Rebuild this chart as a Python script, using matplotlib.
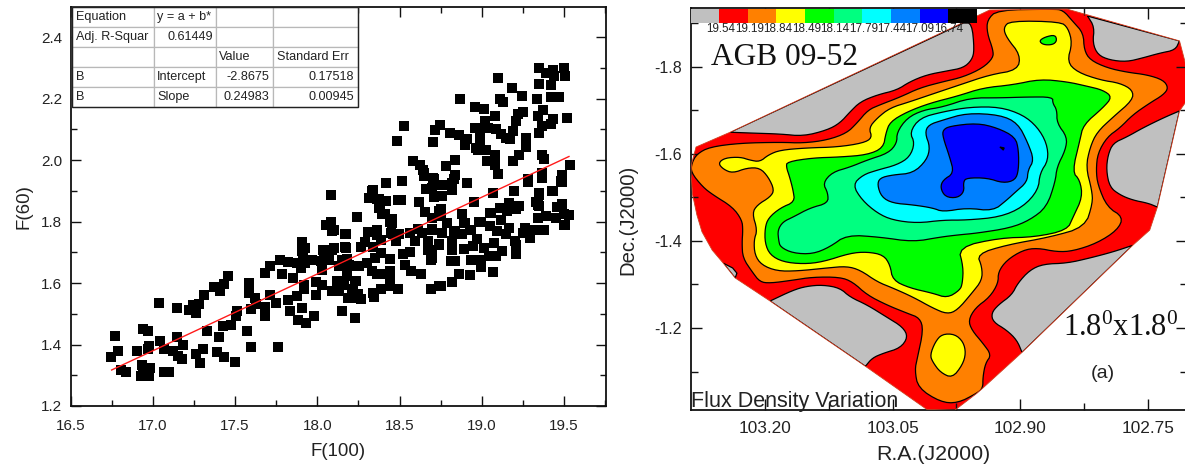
import numpy as np
import matplotlib
matplotlib.use("Agg")
import matplotlib.pyplot as plt
from matplotlib.patches import Polygon
from matplotlib.ticker import MultipleLocator, FormatStrFormatter

plt.rcParams['font.family'] = ['Liberation Sans', 'DejaVu Sans']
plt.rcParams['mathtext.fontset'] = 'custom'
plt.rcParams['mathtext.rm'] = 'Liberation Serif'

# ---------- left panel data ----------
FIT_INTERCEPT = -2.8675
FIT_SLOPE = 0.24983
FIT_RANGE = [16.75, 19.53]
TABLE_ROWS = [
    ["Equation", "y = a + b*", "", ""],
    ["Adj. R-Squar", "0.61449", "", ""],
    ["", "", "Value", "Standard Err"],
    ["B", "Intercept", "-2.8675", "0.17518"],
    ["B", "Slope", "0.24983", "0.00945"],
]
POINTS = [
(16.745,1.36),(16.79,1.378),(16.77,1.428),(16.81,1.317),(16.84,1.312),(16.905,1.38),(16.94,1.45),(16.97,1.445),
(16.975,1.395),(16.97,1.385),(16.935,1.335),(16.93,1.297),(16.975,1.297),(16.985,1.324),(16.95,1.313),(16.94,1.32),
(17.045,1.41),(17.07,1.384),(17.12,1.38),(17.07,1.312),(17.10,1.31),(17.035,1.535),(17.145,1.52),(17.145,1.425),
(17.185,1.398),(17.155,1.364),(17.18,1.353),(17.22,1.513),(17.245,1.527),(17.28,1.533),(17.26,1.503),(17.31,1.56),
(17.33,1.443),(17.305,1.386),(17.26,1.37),(17.29,1.34),(17.37,1.586),(17.41,1.574),(17.435,1.598),(17.46,1.622),
(17.405,1.426),(17.39,1.375),(17.43,1.358),(17.50,1.343),(17.425,1.46),(17.475,1.463),(17.515,1.51),(17.505,1.492),
(17.575,1.445),(17.60,1.393),(17.76,1.393),(17.585,1.60),(17.585,1.566),(17.62,1.552),(17.60,1.514),(17.63,1.533),
(17.685,1.522),(17.68,1.494),(17.71,1.56),(17.75,1.535),(17.68,1.633),(17.71,1.655),(17.785,1.628),(17.775,1.674),
(17.825,1.669),(17.85,1.615),(17.875,1.666),(17.90,1.65),(17.925,1.666),(17.965,1.674),(17.905,1.733),(17.925,1.714),
(17.915,1.698),(17.92,1.58),(17.875,1.557),(17.825,1.544),(17.835,1.508),(17.905,1.519),(17.885,1.481),(17.93,1.47),
(17.98,1.494),(17.995,1.56),(17.99,1.604),(18.03,1.593),(18.025,1.671),(18.055,1.679),(18.03,1.644),(18.035,1.707),
(18.09,1.707),(18.09,1.769),(18.17,1.76),(18.17,1.718),(18.15,1.676),(18.19,1.66),(18.135,1.655),(18.18,1.628),
(18.12,1.606),(18.16,1.595),(18.09,1.573),(18.13,1.573),(18.15,1.508),(18.185,1.552),(18.23,1.487),(18.23,1.606),
(18.22,1.573),(18.23,1.552),(18.24,1.655),(17.92,1.595),
(18.083,1.886),(18.42,1.924),(18.515,1.931),(18.65,1.958),(18.71,1.94),(18.66,1.906),(18.707,1.88),(18.34,1.902),
(18.32,1.877),(18.36,1.872),(18.41,1.866),(18.49,1.869),(18.51,1.87),(18.62,1.863),(18.655,1.831),(18.38,1.844),
(18.41,1.823),(18.455,1.807),(18.455,1.796),(18.24,1.815),(18.083,1.798),(18.055,1.79),(18.10,1.771),(18.175,1.76),
(18.31,1.766),(18.365,1.771),(18.365,1.756),(18.46,1.761),(18.495,1.758),(18.565,1.763),(18.615,1.776),(18.635,1.763),
(18.70,1.776),(18.70,1.812),(18.74,1.834),(18.595,1.736),(18.675,1.736),(18.74,1.725),(17.91,1.704),(18.10,1.714),
(18.045,1.707),(18.175,1.714),(18.29,1.733),(18.265,1.718),(18.34,1.718),(18.39,1.741),(18.48,1.736),(18.39,1.698),
(18.35,1.682),(18.44,1.679),(18.52,1.693),(18.565,1.70),(18.67,1.709),(18.695,1.682),(18.535,1.66),(18.57,1.638),
(18.63,1.628),(18.04,1.676),(18.07,1.676),(18.18,1.679),(18.135,1.655),(18.185,1.66),(18.255,1.655),(18.30,1.666),
(18.33,1.638),(18.36,1.628),(18.41,1.628),(18.445,1.638),(18.44,1.606),(18.18,1.622),(18.14,1.595),(18.235,1.606),
(18.10,1.573),(18.21,1.579),(18.19,1.552),(18.25,1.563),(18.265,1.548),(18.34,1.568),(18.345,1.555),(18.385,1.582),
(18.44,1.59),(18.49,1.581),(18.69,1.581),(18.74,1.59),
(18.91,1.924),(18.82,1.926),(18.76,1.92),(18.70,1.91),(18.76,1.882),(18.82,1.904),(18.75,1.84),(18.70,1.81),
(18.88,1.826),(18.79,1.796),(18.76,1.763),(18.70,1.774),(18.83,1.763),(18.89,1.796),(18.88,1.758),(18.935,1.774),
(18.985,1.80),(19.05,1.828),(19.11,1.844),(19.165,1.861),(19.225,1.852),(19.155,1.834),(19.205,1.84),(19.07,1.893),
(18.955,1.863),(19.195,1.899),(19.28,1.93),(19.485,1.928),(19.43,1.90),(19.35,1.893),(19.33,1.863),(19.345,1.85),
(19.455,1.848),(19.485,1.858),(19.50,1.823),(19.53,1.82),(19.50,1.79),(19.45,1.812),(19.39,1.817),(19.34,1.812),
(19.38,1.772),(19.325,1.774),(19.26,1.78),(19.29,1.747),(19.25,1.763),(19.115,1.806),(19.05,1.785),(19.165,1.78),
(19.095,1.769),(19.145,1.758),(19.075,1.73),(18.97,1.744),(19.20,1.736),(19.21,1.725),(19.21,1.693),(19.12,1.704),
(19.085,1.687),(19.045,1.687),(19.015,1.714),(18.945,1.72),(18.89,1.711),(18.995,1.676),(18.995,1.652),(18.935,1.676),
(18.82,1.736),(18.82,1.709),(18.81,1.673),(18.84,1.671),(18.74,1.728),(18.695,1.709),(18.69,1.676),(19.07,1.635),
(18.93,1.625),(18.86,1.631),(18.82,1.605),(18.75,1.59),(18.69,1.581),
(19.35,2.30),(19.43,2.294),(19.50,2.30),(19.39,2.283),(19.44,2.273),(19.505,2.275),(19.35,2.248),(19.42,2.245),
(19.10,2.267),(19.185,2.235),(19.245,2.208),(19.42,2.205),(19.47,2.205),(19.335,2.20),(18.865,2.20),(19.11,2.20),
(19.13,2.19),(18.96,2.173),(19.015,2.166),(19.37,2.164),(19.25,2.157),(19.22,2.15),(19.34,2.143),(19.08,2.145),
(19.515,2.137),(19.435,2.135),(19.205,2.126),(19.02,2.126),(19.365,2.112),(19.42,2.118),(18.745,2.115),(18.715,2.097),
(18.96,2.105),(19.04,2.105),(19.085,2.102),(18.99,2.094),(18.805,2.088),(18.86,2.083),(19.345,2.088),(19.19,2.094),
(19.115,2.086),(19.15,2.072),(19.17,2.067),(18.91,2.07),(18.705,2.06),(18.99,2.064),(18.895,2.05),(19.27,2.072),
(18.965,2.04),(19.025,2.032),(19.27,2.043),(19.225,2.016),(19.19,1.996),(18.975,2.032),(19.08,2.015),(19.03,1.996),
(19.08,1.985),(19.365,2.015),(19.38,2.004),(19.535,1.983),(18.58,1.996),(18.625,1.985),(18.64,1.969),(18.65,1.948),
(18.705,1.942),(18.835,2.0),(18.78,1.982),(18.835,1.953),(18.83,1.937),(19.10,1.956),(19.28,1.937),(19.365,1.958),
(19.365,1.942),(19.49,1.953),(19.48,1.931),(19.425,1.90),(19.35,1.888),(19.34,1.855),(19.485,1.855),(19.505,1.79),
(18.53,2.11),(18.485,2.063),(18.335,1.899),(18.315,1.877),(18.375,1.872),(18.42,1.866),(18.75,1.817),(18.375,1.844),
(18.395,1.823),(18.445,1.80),(18.45,1.763),(18.79,1.796),(18.88,1.823),(18.90,1.796),(18.93,1.774),(18.84,1.769),
(18.995,1.80),(19.055,1.828),
]

# ---------- right panel data ----------
LEVEL_COLORS = ["#C0C0C0", "#FF0000", "#FF8000", "#FFFF00", "#00FF00",
                "#00FF80", "#00FFFF", "#0080FF", "#0000FF", "#000000"]
LEVEL_LABELS = ["19.54", "19.19", "18.84", "18.49", "18.14", "17.79", "17.44", "17.09", "16.74"]
RA_TICKS = [103.20, 103.05, 102.90, 102.75]
DEC_TICKS = [-1.8, -1.6, -1.4, -1.2]

HULL = [(103.287,-1.558),(103.286,-1.579),(103.281,-1.616),(103.241,-1.650),(102.936,-1.931),(102.845,-1.933),
        (102.713,-1.860),(102.704,-1.793),(102.704,-1.724),(102.713,-1.699),(102.739,-1.478),(102.748,-1.425),
        (102.768,-1.390),(102.898,-1.144),(102.944,-1.062),(102.951,-1.050),(102.977,-1.011),(103.010,-1.013),
        (103.082,-1.112),(103.194,-1.262),(103.235,-1.315),(103.249,-1.349),(103.262,-1.379),(103.274,-1.421),
        (103.280,-1.460),(103.285,-1.506)]
GRAY_A = [(103.241,-1.650),(102.967,-1.901),(102.957,-1.901),(102.954,-1.839),(102.957,-1.816),(102.967,-1.798),
          (102.986,-1.791),(103.010,-1.782),(103.030,-1.766),(103.045,-1.747),(103.068,-1.736),(103.088,-1.720),
          (103.100,-1.697),(103.112,-1.671),(103.127,-1.655),(103.155,-1.641),(103.182,-1.646),(103.214,-1.648)]
GRAY_B = [(102.821,-1.917),(102.713,-1.860),(102.718,-1.839),(102.736,-1.832),(102.756,-1.821),(102.775,-1.812),
          (102.795,-1.816),(102.809,-1.828),(102.815,-1.855),(102.813,-1.892)]
GRAY_C = [(102.713,-1.699),(102.739,-1.478),(102.750,-1.487),(102.768,-1.494),(102.783,-1.506),(102.795,-1.524),
          (102.799,-1.563),(102.797,-1.598),(102.791,-1.625),(102.775,-1.639),(102.756,-1.660),(102.732,-1.683)]
GRAY_D = [(102.768,-1.390),(102.898,-1.144),(102.904,-1.172),(102.916,-1.195),(102.932,-1.214),(102.934,-1.234),
          (102.926,-1.253),(102.910,-1.276),(102.903,-1.303),(102.889,-1.333),(102.873,-1.347),(102.845,-1.349),
          (102.818,-1.361),(102.791,-1.375)]
GRAY_E = [(103.194,-1.262),(103.082,-1.112),(103.074,-1.131),(103.061,-1.142),(103.041,-1.154),(103.032,-1.179),
          (103.038,-1.202),(103.057,-1.225),(103.080,-1.253),(103.100,-1.271),(103.112,-1.292),(103.132,-1.299),
          (103.151,-1.296),(103.167,-1.287)]
GRAY_F = [(103.249,-1.349),(103.238,-1.338),(103.233,-1.326),(103.235,-1.315)]
ORANGE = [(103.287,-1.558),(103.286,-1.579),(103.280,-1.600),(103.265,-1.616),(103.229,-1.625),(103.182,-1.627),
          (103.155,-1.625),(103.127,-1.632),(103.104,-1.648),(103.092,-1.671),(103.079,-1.701),(103.065,-1.713),
          (103.041,-1.731),(103.018,-1.752),(102.991,-1.766),(102.967,-1.777),(102.944,-1.798),(102.932,-1.821),
          (102.932,-1.839),(102.939,-1.878),(102.939,-1.908),(102.927,-1.931),(102.862,-1.933),(102.850,-1.931),
          (102.838,-1.904),(102.826,-1.878),(102.825,-1.839),(102.818,-1.816),(102.798,-1.798),(102.775,-1.788),
          (102.751,-1.782),(102.732,-1.770),(102.726,-1.752),(102.732,-1.736),(102.748,-1.717),(102.768,-1.690),
          (102.783,-1.660),(102.798,-1.639),(102.809,-1.602),(102.811,-1.563),(102.809,-1.529),(102.798,-1.478),
          (102.779,-1.455),(102.786,-1.425),(102.810,-1.395),(102.838,-1.377),(102.857,-1.375),(102.880,-1.384),
          (102.897,-1.379),(102.916,-1.356),(102.926,-1.329),(102.926,-1.303),(102.936,-1.271),(102.953,-1.246),
          (102.961,-1.218),(102.957,-1.195),(102.944,-1.165),(102.934,-1.138),(102.941,-1.119),(102.944,-1.087),
          (102.944,-1.062),(102.951,-1.050),(102.974,-1.027),(102.994,-1.030),(103.020,-1.062),(103.024,-1.103),
          (103.021,-1.131),(103.014,-1.195),(103.018,-1.223),(103.033,-1.234),(103.057,-1.253),(103.080,-1.276),
          (103.097,-1.306),(103.112,-1.317),(103.144,-1.317),(103.167,-1.310),(103.194,-1.303),(103.206,-1.306),
          (103.215,-1.329),(103.226,-1.361),(103.227,-1.395),(103.226,-1.425),(103.227,-1.448),(103.238,-1.478),
          (103.261,-1.506),(103.273,-1.524)]
YELLOW = [(103.182,-1.609),(103.151,-1.614),(103.115,-1.616),(103.085,-1.625),(103.074,-1.637),(103.078,-1.660),
          (103.068,-1.683),(103.053,-1.706),(103.030,-1.720),(103.006,-1.736),(102.971,-1.759),(102.936,-1.782),
          (102.903,-1.793),(102.900,-1.828),(102.916,-1.867),(102.920,-1.890),(102.912,-1.906),(102.853,-1.904),
          (102.844,-1.890),(102.839,-1.855),(102.845,-1.812),(102.833,-1.788),(102.806,-1.770),(102.783,-1.763),
          (102.768,-1.747),(102.768,-1.724),(102.791,-1.685),(102.810,-1.650),(102.818,-1.616),(102.823,-1.570),
          (102.816,-1.517),(102.815,-1.487),(102.824,-1.432),(102.865,-1.409),(102.916,-1.391),(102.951,-1.370),
          (102.945,-1.340),(102.945,-1.310),(102.957,-1.280),(102.974,-1.241),(102.986,-1.232),(103.003,-1.246),
          (103.026,-1.271),(103.050,-1.292),(103.068,-1.306),(103.088,-1.333),(103.104,-1.342),(103.127,-1.338),
          (103.162,-1.331),(103.186,-1.331),(103.204,-1.345),(103.212,-1.368),(103.213,-1.402),(103.209,-1.425),
          (103.215,-1.464),(103.209,-1.483),(103.194,-1.501),(103.189,-1.517),(103.196,-1.547),(103.206,-1.568),
          (103.221,-1.568),(103.238,-1.556),(103.249,-1.565),(103.255,-1.579),(103.247,-1.591),(103.229,-1.593),
          (103.218,-1.586),(103.206,-1.582),(103.196,-1.598)]
YELLOW_SOUTH = [(103.006,-1.138),(103.000,-1.168),(102.992,-1.186),(102.977,-1.186),(102.967,-1.168),(102.964,-1.142),
                (102.968,-1.115),(102.980,-1.085),(102.994,-1.098),(103.003,-1.122)]
GREEN = [(103.174,-1.582),(103.144,-1.591),(103.112,-1.593),(103.080,-1.598),(103.061,-1.614),(103.058,-1.648),
         (103.053,-1.674),(103.033,-1.697),(103.006,-1.717),(102.974,-1.733),(102.944,-1.752),(102.909,-1.759),
         (102.877,-1.772),(102.845,-1.766),(102.822,-1.756),(102.803,-1.747),(102.792,-1.731),(102.803,-1.706),
         (102.826,-1.667),(102.830,-1.632),(102.839,-1.559),(102.830,-1.540),(102.827,-1.501),(102.838,-1.455),
         (102.845,-1.425),(102.883,-1.409),(102.924,-1.407),(102.973,-1.386),(102.967,-1.340),(102.968,-1.303),
         (102.971,-1.287),(102.986,-1.269),(103.003,-1.280),(103.030,-1.292),(103.050,-1.310),(103.053,-1.345),
         (103.061,-1.368),(103.080,-1.375),(103.100,-1.372),(103.132,-1.352),(103.155,-1.347),(103.179,-1.352),
         (103.194,-1.368),(103.200,-1.395),(103.200,-1.430),(103.196,-1.453),(103.182,-1.476),(103.165,-1.490),
         (103.167,-1.517),(103.171,-1.547),(103.175,-1.570)]
GREEN_NORTH = [(102.878,-1.860),(102.871,-1.869),(102.859,-1.874),(102.857,-1.860),(102.862,-1.851),(102.873,-1.851)]
SPRING = [(103.179,-1.444),(103.167,-1.455),(103.147,-1.476),(103.126,-1.487),(103.126,-1.510),(103.132,-1.533),
          (103.121,-1.558),(103.100,-1.570),(103.080,-1.586),(103.055,-1.602),(103.045,-1.625),(103.045,-1.650),
          (103.033,-1.683),(103.014,-1.701),(102.991,-1.708),(102.959,-1.729),(102.924,-1.729),(102.892,-1.731),
          (102.862,-1.731),(102.862,-1.717),(102.857,-1.701),(102.857,-1.671),(102.845,-1.639),(102.847,-1.609),
          (102.857,-1.570),(102.859,-1.536),(102.869,-1.478),(102.889,-1.448),(102.912,-1.430),(102.951,-1.418),
          (102.973,-1.414),(102.994,-1.409),(103.026,-1.398),(103.065,-1.409),(103.104,-1.414),(103.124,-1.386),
          (103.144,-1.370),(103.167,-1.372),(103.182,-1.386),(103.184,-1.402),(103.185,-1.425)]
CYAN = [(103.097,-1.529),(103.085,-1.552),(103.068,-1.563),(103.045,-1.575),(103.030,-1.593),(103.024,-1.625),
        (103.030,-1.650),(103.018,-1.683),(102.991,-1.697),(102.959,-1.708),(102.924,-1.708),(102.897,-1.690),
        (102.880,-1.662),(102.869,-1.625),(102.867,-1.586),(102.877,-1.556),(102.879,-1.517),(102.897,-1.478),
        (102.924,-1.455),(102.963,-1.448),(102.991,-1.448),(103.021,-1.441),(103.050,-1.448),(103.068,-1.464),
        (103.086,-1.494)]
AZURE = [(103.068,-1.529),(103.065,-1.545),(103.050,-1.552),(103.026,-1.556),(103.010,-1.586),(103.006,-1.616),
         (103.012,-1.648),(103.008,-1.667),(102.991,-1.678),(102.963,-1.694),(102.924,-1.690),(102.903,-1.671),
         (102.891,-1.625),(102.884,-1.586),(102.891,-1.563),(102.892,-1.536),(102.906,-1.512),(102.916,-1.494),
         (102.932,-1.469),(102.963,-1.476),(102.991,-1.467),(103.003,-1.476),(103.026,-1.483),(103.050,-1.487),
         (103.063,-1.501)]
BLUE = [(102.991,-1.655),(102.983,-1.664),(102.951,-1.671),(102.927,-1.660),(102.906,-1.639),(102.902,-1.609),
        (102.902,-1.563),(102.906,-1.540),(102.920,-1.533),(102.939,-1.545),(102.963,-1.545),(102.967,-1.536),
        (102.966,-1.513),(102.974,-1.499),(102.988,-1.501),(102.994,-1.522),(102.991,-1.540),(102.978,-1.556),
        (102.983,-1.593),(102.991,-1.639)]
BLACK = [(102.924,-1.616),(102.919,-1.614),(102.920,-1.609)]

W, H = 1185, 468
fig = plt.figure(figsize=(W / 100, H / 100), dpi=100)


def box(l, t, r, b):
    return [l / W, 1 - b / H, (r - l) / W, (b - t) / H]


def style(ax):
    for s in ax.spines.values():
        s.set_linewidth(1.3)
        s.set_color('#111111')
    ax.tick_params(which='both', direction='in', top=True, right=True, width=1.0, color='#111111')
    ax.tick_params(which='major', length=7, labelsize=11, labelcolor='#222222', pad=6)
    ax.tick_params(which='minor', length=4)


# ---------- left panel ----------
ax = fig.add_axes(box(70.5, 7, 606, 406))
px, py = zip(*POINTS)
ax.scatter(px, py, marker='s', s=44, c='black', linewidths=0, zorder=3)
fx = np.array(FIT_RANGE)
ax.plot(fx, FIT_INTERCEPT + FIT_SLOPE * fx, color='#FF1A1A', lw=1.0, zorder=4)
ax.set_xlim(16.5, 19.755)
ax.set_ylim(1.2, 2.498)
ax.xaxis.set_major_locator(MultipleLocator(0.5))
ax.xaxis.set_minor_locator(MultipleLocator(0.25))
ax.yaxis.set_major_locator(MultipleLocator(0.2))
ax.yaxis.set_minor_locator(MultipleLocator(0.1))
ax.xaxis.set_major_formatter(FormatStrFormatter('%.1f'))
ax.yaxis.set_major_formatter(FormatStrFormatter('%.1f'))
style(ax)
ax.tick_params(axis='x', which='major', pad=9)
ax.set_xlabel('F(100)', fontsize=13.4, color='#222222')
ax.set_ylabel('F(60)', fontsize=13.4, color='#222222')
ax.xaxis.set_label_coords((338.5 - 70.5) / 535.5, -(452 - 406) / 399, transform=ax.transAxes)
ax.xaxis.label.set_va('center')
ax.yaxis.set_label_coords(-(70.5 - 24) / 535.5, 0.5, transform=ax.transAxes)
ax.yaxis.label.set_va('center')

tw = 286.0 / 535.5
th = 100.0 / 399.0
tbl = ax.table(cellText=TABLE_ROWS, bbox=[1.5 / 535.5, 1 - th, tw, th],
               colWidths=[82, 62, 56.5, 85.5], zorder=6)
tbl.auto_set_font_size(False)
tbl.set_fontsize(9.1)
right_cells = {(1, 1), (3, 2), (3, 3), (4, 2), (4, 3)}
for (r, c), cell in tbl.get_celld().items():
    cell.set_edgecolor('#B8B8B8')
    cell.set_linewidth(0.9)
    cell.set_facecolor('white')
    cell.PAD = 0.05
    cell.get_text().set_color('#222222')
    cell.get_text().set_ha('right' if (r, c) in right_cells else 'left')
    cell._loc = 'right' if (r, c) in right_cells else 'left'
frame = plt.Rectangle((1.5 / 535.5, 1 - th), tw, th, transform=ax.transAxes, fill=False,
                      edgecolor='#222222', lw=1.0, zorder=7, clip_on=False)
ax.add_patch(frame)

# ---------- right panel ----------
ar = fig.add_axes(box(690.5, 8, 1187, 410))
ar.set_xlim(103.2875, 102.7042)
ar.set_ylim(-1.0115, -1.9356)


def chaikin(pts, n=2, corners=0):
    # the first `corners` vertices lie on the map's edge and stay sharp
    pts = list(pts)
    sharp = [v for v in pts[:corners] for _ in range(4)]
    p = np.array(sharp + pts[corners:], float)
    for _ in range(n):
        q = np.roll(p, -1, axis=0)
        p = np.column_stack([0.75 * p + 0.25 * q, 0.25 * p + 0.75 * q]).reshape(-1, 2)
    return p


hull = Polygon(HULL, closed=True, facecolor=LEVEL_COLORS[1], edgecolor='none', zorder=1)
ar.add_patch(hull)
layers = [(GRAY_A, 0, 2), (GRAY_B, 0, 2), (GRAY_C, 0, 2), (GRAY_D, 0, 2), (GRAY_E, 0, 2), (GRAY_F, 0, 4),
          (ORANGE, 2, 0), (YELLOW, 3, 0), (YELLOW_SOUTH, 3, 0), (GREEN, 4, 0), (GREEN_NORTH, 4, 0),
          (SPRING, 5, 0), (CYAN, 6, 0), (AZURE, 7, 0), (BLUE, 8, 0), (BLACK, 9, 0)]
for i, (pts, level, corners) in enumerate(layers):
    smooth = pts if level == 9 else chaikin(pts, corners=corners)
    pg = Polygon(smooth, closed=True, facecolor=LEVEL_COLORS[level], edgecolor='black',
                 lw=0.9, zorder=2 + i * 0.01)
    ar.add_patch(pg)
    pg.set_clip_path(hull)
ar.add_patch(Polygon(HULL, closed=True, fill=False, edgecolor='#D04020', lw=0.6, zorder=3))

ar.set_xticks(RA_TICKS)
ar.set_xticks([103.125, 102.975, 102.825], minor=True)
ar.set_yticks(DEC_TICKS)
ar.set_yticks([-1.9, -1.7, -1.5, -1.3, -1.1], minor=True)
ar.xaxis.set_major_formatter(FormatStrFormatter('%.2f'))
ar.yaxis.set_major_formatter(FormatStrFormatter('%.1f'))
style(ar)
ar.tick_params(which='major', length=8)
ar.tick_params(which='minor', length=5)
ar.tick_params(axis='x', which='major', labelsize=12.4, pad=8)
ar.tick_params(axis='y', which='major', labelsize=11.5, pad=6)
ar.set_xlabel('R.A.(J2000)', fontsize=15.4, color='#222222')
ar.set_ylabel('Dec.(J2000)', fontsize=14.6, color='#222222')
ar.xaxis.set_label_coords((933 - 690.5) / 496.5, -(454 - 410) / 402, transform=ar.transAxes)
ar.xaxis.label.set_va('center')
ar.yaxis.set_label_coords(-(690.5 - 628) / 496.5, 1 - (220 - 8) / 402, transform=ar.transAxes)
ar.yaxis.label.set_va('center')

# colour key
key = fig.add_axes(box(690.5, 8.5, 977, 23), zorder=5)
key.bar(range(len(LEVEL_COLORS)), np.ones(len(LEVEL_COLORS)), width=1.0, color=LEVEL_COLORS, linewidth=0)
key.set_xlim(-0.5, len(LEVEL_COLORS) - 0.5)
key.set_ylim(0, 1)
key.axis('off')
for i, lab in enumerate(LEVEL_LABELS):
    fig.text((721 + i * 28.45) / W, 1 - 28.5 / H, lab, fontsize=8.4, ha='center', va='center',
             color='#222222', zorder=6)

fig.text(711 / W, 1 - 65 / H, 'AGB 09-52', family='Liberation Serif', fontsize=22.6, color='#111111',
         ha='left', va='baseline', zorder=6)
fig.text(1063 / W, 1 - 336 / H, r'$\mathrm{1.8^{0}x1.8^{0}}$', fontsize=22, color='#111111',
         ha='left', va='baseline', zorder=6)
fig.text(1102.5 / W, 1 - 374 / H, '(a)', fontsize=14, color='#222222', ha='center', va='center', zorder=6)
fig.text(691 / W, 1 - 407 / H, 'Flux Density Variation', fontsize=15.5, color='#222222',
         ha='left', va='baseline', zorder=6)

fig.savefig('out.png', dpi=100)
